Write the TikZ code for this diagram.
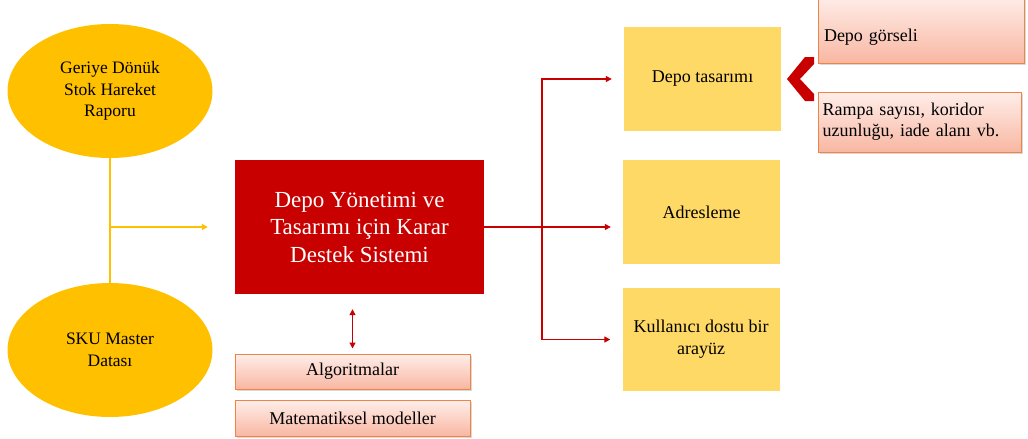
\documentclass[tikz,border=0pt]{standalone}
\usepackage{fontspec}
\setmainfont{Liberation Serif}
\usepackage{tikz}
\usetikzlibrary{arrows.meta,positioning,shapes.geometric,shadows}
\definecolor{kok}{HTML}{FFC000}
\definecolor{kirmizi}{HTML}{C80000}
\definecolor{acik}{HTML}{FFD966}
\definecolor{turuncu}{HTML}{F08444}
\definecolor{pembe1}{HTML}{FFEEEA}
\definecolor{pembe2}{HTML}{F8B7A2}
\tikzset{
  kaynak/.style={ellipse,fill=kok,minimum width=205pt,minimum height=134pt,inner sep=0pt,align=center,font=\fontsize{17.5}{21.5}\selectfont},
  karar/.style={rectangle,fill=kirmizi,text=white,minimum width=249pt,minimum height=134pt,align=center,font=\fontsize{23}{27.5}\selectfont},
  cikti/.style={rectangle,fill=acik,minimum width=157pt,minimum height=104pt,align=center,font=\fontsize{18}{22}\selectfont},
  arac/.style={rectangle,draw=turuncu,line width=1pt,top color=pembe1,bottom color=pembe2,
    drop shadow={shadow xshift=1.5pt,shadow yshift=-2pt,opacity=0.3},font=\fontsize{18}{21}\selectfont},
  kol/.style={->,draw=kirmizi,line width=1.3pt,shorten >=12pt},
}
\begin{document}
\begin{tikzpicture}[x=1pt,y=-1pt,>={Triangle[length=6pt,width=6pt]}]
\clip (0,0) rectangle (1028,439);
\node[kaynak] (rapor) at (110,91) {Geriye Dönük\\Stok Hareket\\Raporu};
\node[kaynak] (sku) at (110,350) {SKU Master\\Datası};
\node[karar] (kds) at (359.5,227) {Depo Yönetimi ve\\Tasarımı için Karar\\Destek Sistemi};
\node[arac,minimum width=235pt,minimum height=35pt] (alg) at (352.5,371.5) {Algoritmalar};
\node[arac,minimum width=235pt,minimum height=36pt] (mat) at (352.5,418) {Matematiksel modeller};
\node[cikti] (tasarim) at (702.5,79) {Depo tasarımı};
\node[cikti] (adres) at (701.5,212) {Adresleme};
\node[cikti,minimum height=103pt] (arayuz) at (701,339.5) {Kullanıcı dostu bir\\arayüz};
\node[arac,minimum width=206pt,minimum height=68pt,text width=194pt,align=left,
  text height=30pt,text depth=6pt] (gorsel) at (921,29) {Depo görseli};
\node[arac,minimum width=203pt,minimum height=60pt,text width=194pt,align=left] (rampa) at (919.5,122)
  {Rampa sayısı, koridor\\uzunluğu, iade alanı vb.};
% chevron
\fill[kirmizi] (805,57) -- (814,57) -- (814,64) -- (800,79) -- (814,94) -- (814,101) -- (805,101) -- (787,79) -- cycle;
% girdiler
\coordinate (ayrim) at (110,227);
\draw[kok,line width=1.5pt] (rapor) -- (sku);
\draw[->,kok,line width=1.5pt,shorten >=27pt] (ayrim) -- (kds.west);
\draw[<->,kirmizi,line width=1.3pt,shorten <=15pt,shorten >=5pt] (alg.north |- kds.south) -- (alg.north);
% ciktilar
\coordinate (dal) at (542,227);
\draw[kirmizi,line width=2.5pt] (kds.east) -- (dal);
\draw[kol] (dal) |- (tasarim);
\draw[kol] (dal) -- (dal -| adres.west);
\draw[kol] (dal) |- (arayuz);
\end{tikzpicture}
\end{document}
